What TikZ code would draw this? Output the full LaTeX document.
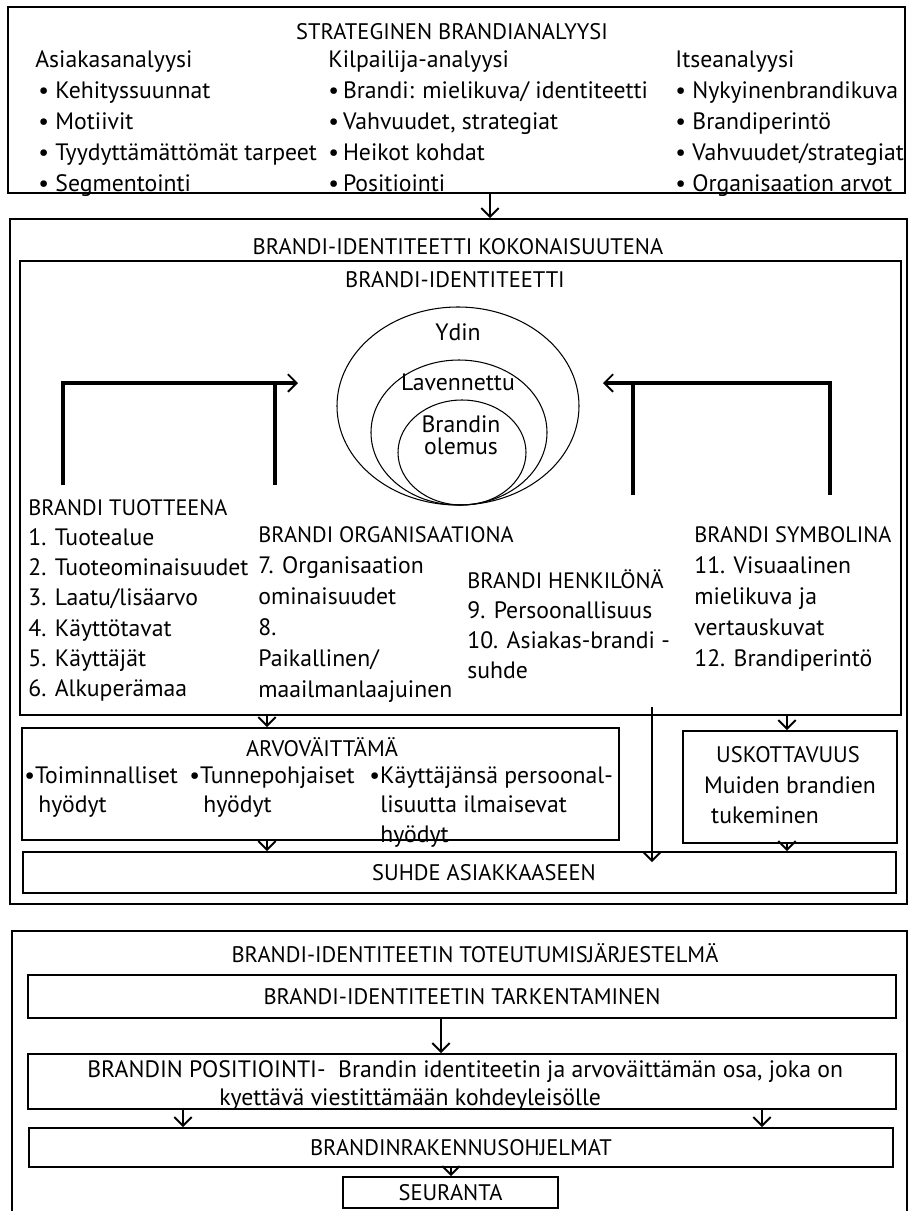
\documentclass[tikz,border=0pt]{standalone}
\usepackage{fontspec}
\setmainfont{PT Sans}
\usetikzlibrary{arrows.meta,fit}

\tikzset{
  box/.style={draw, line width=0.9pt, inner sep=0pt},
  txt/.style={inner sep=0pt, anchor=west, text height=1.6ex, text depth=.45ex, font=\fontsize{13.5}{15}\selectfont},
  hdr/.style={txt, font=\fontsize{12.7}{15}\selectfont},
  ttl/.style={inner sep=0pt, font=\fontsize{12.8}{15}\selectfont},
  arr/.style={line width=1.1pt, -{Straight Barb[length=5pt,width=10pt,line width=1.1pt]}},
  bracket/.style={line width=1.8pt},
  tip/.style={-{Straight Barb[length=5pt,width=10pt,line width=1.1pt]}},
}

\begin{document}
\begin{tikzpicture}[x=0.02cm, y=-0.02cm]
  \useasboundingbox (0,0) rectangle (909,1211);

  % strateginen brandianalyysi
  \node[box, fit={(8,7) (905,193)}] (analyysi) {};
  \node[ttl] (analyysiotsikko) at (452,32) {STRATEGINEN BRANDIANALYYSI};
  \node[txt] (asiakas) at (35,62) {Asiakasanalyysi};
  \node[txt] (kilpailija) at (328,62) {Kilpailija-analyysi};
  \node[txt] (itse) at (675,62) {Itseanalyysi};
  \foreach \t [count=\i] in {Kehityssuunnat, Motiivit, Tyydyttämättömät tarpeet, Segmentointi}
    \node[txt] (asiakas\i) at (38,62+31*\i) {\textbullet\ \t};
  \foreach \t [count=\i] in {{Brandi: mielikuva/ identiteetti}, {Vahvuudet, strategiat}, Heikot kohdat, Positiointi}
    \node[txt] (kilpailija\i) at (328,62+31*\i) {\textbullet\,\t};
  \foreach \t [count=\i] in {Nykyinenbrandikuva, Brandiperintö, Vahvuudet/strategiat, Organisaation arvot}
    \node[txt] (itse\i) at (675,62+31*\i) {\textbullet\ \t};

  % brandi-identiteetti kokonaisuutena
  \node[box, fit={(10,219) (907,904)}] (kokonaisuus) {};
  \node[ttl] (kokonaisuusotsikko) at (458,247) {BRANDI-IDENTITEETTI KOKONAISUUTENA};
  \node[box, fit={(20,261) (901,715)}] (identiteetti) {};
  \node[ttl] (identiteettiotsikko) at (455,280) {BRANDI-IDENTITEETTI};

  \draw[line width=0.6pt] (458,406) ellipse [x radius=121, y radius=99];
  \draw[line width=0.6pt] (459,432.5) ellipse [x radius=88, y radius=72.5];
  \draw[line width=0.6pt] (462,452.5) ellipse [x radius=64, y radius=52.5];
  \node[txt, anchor=center] (ydin) at (458,335) {Ydin};
  \node[txt, anchor=center] (laajennettu) at (458,385) {Lavennettu};
  \node[txt, anchor=center] (brandin) at (461,427) {Brandin};
  \node[txt, anchor=center] (olemus) at (461,449) {olemus};

  \node[hdr] (tuote) at (28,510) {BRANDI TUOTTEENA};
  \foreach \t [count=\i] in {1. Tuotealue, 2. Tuoteominaisuudet, 3. Laatu/lisäarvo, 4. Käyttötavat, 5. Käyttäjät, 6. Alkuperämaa}
    \node[txt] (tuote\i) at (28,510+30.3*\i) {\t};
  \node[hdr] (organisaatio) at (258,537) {BRANDI ORGANISAATIONA};
  \foreach \t [count=\i] in {7. Organisaation, ominaisuudet, 8., Paikallinen/, maailmanlaajuinen}
    \node[txt] (organisaatio\i) at (258,537+31*\i) {\t};
  \node[hdr] (henkilo) at (467,583) {BRANDI HENKILÖNÄ};
  \foreach \t [count=\i] in {9. Persoonallisuus, 10. Asiakas-brandi -, suhde}
    \node[txt] (henkilo\i) at (467,583+30*\i) {\t};
  \node[hdr] (symboli) at (694,537) {BRANDI SYMBOLINA};
  \foreach \t [count=\i] in {11. Visuaalinen, mielikuva ja, vertauskuvat, 12. Brandiperintö}
    \node[txt] (symboli\i) at (694,537+31*\i) {\t};

  % hakasulkeet ytimeen
  \coordinate (tuotejalka) at (63,485);
  \coordinate (orgjalka) at (275,485);
  \coordinate (vasennuoli) at (298,383);
  \draw[bracket] (orgjalka) -- (orgjalka |- vasennuoli);
  \draw[bracket, tip] (tuotejalka) |- (vasennuoli);
  \coordinate (henkjalka) at (633,495);
  \coordinate (symbjalka) at (830,495);
  \coordinate (oikeanuoli) at (603,383);
  \draw[bracket] (henkjalka) -- (henkjalka |- oikeanuoli);
  \draw[bracket, tip] (symbjalka) |- (oikeanuoli);

  % arvovaittama, uskottavuus, suhde
  \node[box, fit={(22,728) (619,840)}] (arvo) {};
  \node[ttl] (arvootsikko) at (322,747) {ARVOVÄITTÄMÄ};
  \node[txt] (arvo1) at (24,778) {\textbullet Toiminnalliset};
  \node[txt] (arvo2) at (189,778) {\textbullet Tunnepohjaiset};
  \node[txt] (arvo3) at (369,778) {\textbullet Käyttäjänsä persoonal-};
  \node[txt] (arvo1b) at (38,807) {hyödyt};
  \node[txt] (arvo2b) at (203,807) {hyödyt};
  \node[txt] (arvo3b) at (380,807) {lisuutta ilmaisevat};
  \node[txt] (arvo3c) at (380,837) {hyödyt};

  \node[box, fit={(683,731) (897,843)}] (usko) {};
  \node[ttl] (uskootsikko) at (788,755) {USKOTTAVUUS};
  \node[txt, anchor=center] (usko1) at (790,788) {Muiden brandien};
  \node[txt, anchor=center] (usko2) at (765,818) {tukeminen};

  \node[box, fit={(23,852) (896,893)}] (suhde) {};
  \node[ttl] (suhdeteksti) at (484,873) {SUHDE ASIAKKAASEEN};

  \coordinate (xanalyysi) at (490,0);
  \coordinate (xarvo) at (267,0);
  \coordinate (xusko) at (787,0);
  \coordinate (pitkaalku) at (652,707);
  \coordinate (pitkaloppu) at (652,862);
  \draw[arr] (analyysi.south -| xanalyysi) -- (kokonaisuus.north -| xanalyysi);
  \draw[arr] (identiteetti.south -| xarvo) -- (arvo.north -| xarvo);
  \draw[arr] (arvo.south -| xarvo) -- (suhde.north -| xarvo);
  \draw[arr] (identiteetti.south -| xusko) -- (usko.north -| xusko);
  \draw[arr] (usko.south -| xusko) -- (suhde.north -| xusko);
  \draw[arr, line width=1.6pt] (pitkaalku) -- (pitkaloppu);

  % toteutumisjarjestelma
  \node[box, fit={(12,931) (907,1214)}] (toteutus) {};
  \node[ttl] (toteutusotsikko) at (475,953) {BRANDI-IDENTITEETIN TOTEUTUMISJÄRJESTELMÄ};
  \node[box, fit={(28,975) (896,1018)}] (tarkennus) {};
  \node[ttl] at (tarkennus) {BRANDI-IDENTITEETIN TARKENTAMINEN};
  \node[box, fit={(28,1054) (896,1109)}] (positiointi) {};
  \node[txt] (positiointi1) at (87,1072) {BRANDIN POSITIOINTI-\ \ Brandin identiteetin ja arvoväittämän osa, joka on};
  \node[txt] (positiointi2) at (219,1100) {kyettävä viestittämään kohdeyleisölle};
  \node[box, fit={(29,1128) (893,1167)}] (ohjelmat) {};
  \node[ttl] at (ohjelmat) {BRANDINRAKENNUSOHJELMAT};
  \node[box, fit={(343,1177) (558,1208)}] (seuranta) {};
  \node[ttl] at (seuranta) {SEURANTA};

  \coordinate (xtark) at (441,0);
  \coordinate (xvasen) at (183,0);
  \coordinate (xoikea) at (762,0);
  \coordinate (xseur) at (451,0);
  \draw[arr] (tarkennus.south -| xtark) -- (positiointi.north -| xtark);
  \draw[arr] (positiointi.south -| xvasen) -- (ohjelmat.north -| xvasen);
  \draw[arr] (positiointi.south -| xoikea) -- (ohjelmat.north -| xoikea);
  \draw[arr] (ohjelmat.south -| xseur) -- (seuranta.north -| xseur);
\end{tikzpicture}
\end{document}
